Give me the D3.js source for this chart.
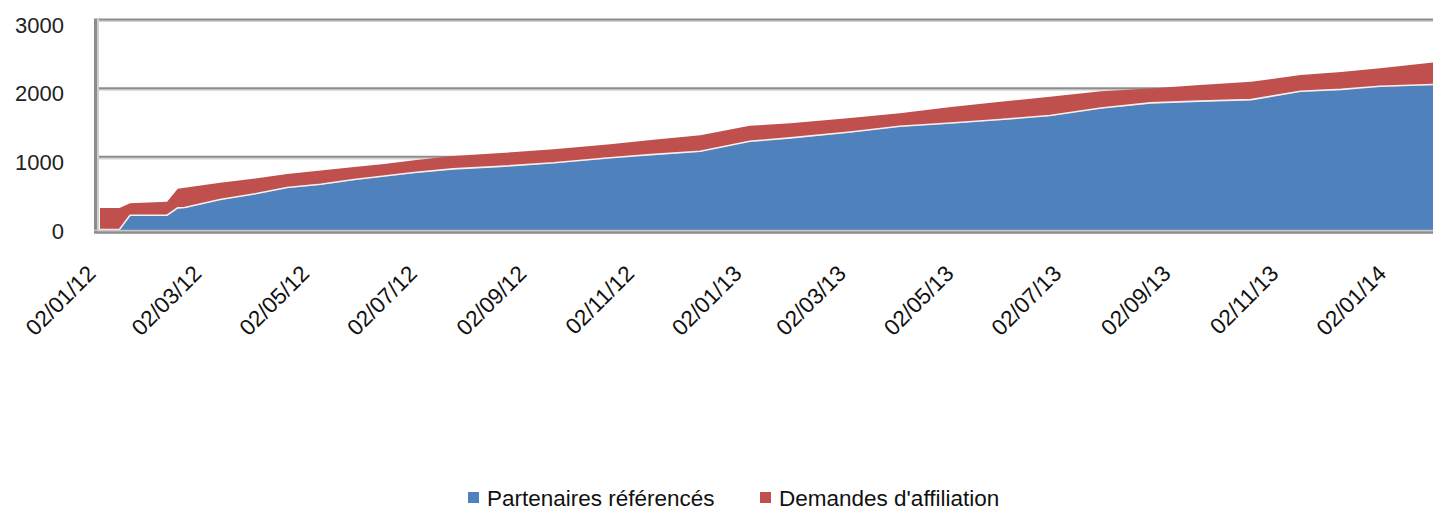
<!DOCTYPE html>
<html>
<head>
<meta charset="utf-8">
<script src="https://cdnjs.cloudflare.com/ajax/libs/d3/7.8.5/d3.min.js"></script>
<style>
  html, body { margin: 0; padding: 0; background: #fff; }
  svg { display: block; font-family: "Liberation Sans", Arial, sans-serif; }
</style>
</head>
<body>
<svg id="chart" width="1433" height="512"></svg>
<script>
// ---- Data ----
const dates = [
  "2012-01-02","2012-01-13","2012-01-19","2012-02-09","2012-02-15","2012-02-19",
  "2012-03-10","2012-03-30","2012-04-17","2012-05-06","2012-05-25","2012-06-11",
  "2012-06-28","2012-07-20","2012-08-16","2012-09-15","2012-10-17","2012-11-09",
  "2012-12-07","2013-01-04","2013-01-27","2013-03-02","2013-03-30","2013-04-28",
  "2013-05-26","2013-06-23","2013-07-22","2013-08-19","2013-09-16","2013-10-15",
  "2013-11-12","2013-12-05","2013-12-27","2014-01-26"
];
const partenaires = [
  0, 0, 208, 208, 315, 320,
  437, 520, 611, 660, 728, 780,
  830, 883, 920, 971, 1044, 1090,
  1140, 1285, 1334, 1420, 1504, 1550,
  1601, 1660, 1770, 1844, 1870, 1892,
  2013, 2040, 2086, 2111
];
const demandes = [
  320, 320, 182, 202, 285, 295,
  250, 230, 205, 205, 190, 180,
  185, 195, 200, 205, 205, 220,
  240, 232, 222, 212, 198, 240,
  267, 280, 250, 216, 240, 267,
  243, 260, 268, 329
];
const yTicks = [0, 1000, 2000, 3000];
const xTickLabels = ["02/01/12","02/03/12","02/05/12","02/07/12","02/09/12","02/11/12",
  "02/01/13","02/03/13","02/05/13","02/07/13","02/09/13","02/11/13","02/01/14"];
const seriesNames = ["Partenaires référencés", "Demandes d'affiliation"];
const seriesColors = ["#4F81BD", "#C0504D"];

// ---- Build ----
const parse = d3.timeParse("%Y-%m-%d");
const parseLbl = d3.timeParse("%d/%m/%y");
const fmt = d3.timeFormat("%d/%m/%y");
const rows = dates.map((d, i) => ({ date: parse(d), a: partenaires[i], b: demandes[i] }));

const svg = d3.select("#chart");
const left = 100, right = 1433;
const x = d3.scaleTime().domain([parse("2012-01-02"), parse("2014-01-26")]).range([left, right]);
const y = d3.scaleLinear().domain([0, 3000]).range([230, 24]);
const wallOff = 4.5;

// back wall gridlines (3D look)
const grid = svg.append("g");
yTicks.filter(v => v > 0).forEach(v => {
  const gy = y(v) - wallOff;
  grid.append("line").attr("x1", 97).attr("x2", right).attr("y1", gy + 1.6).attr("y2", gy + 1.6)
    .attr("stroke", "#d4d4d4").attr("stroke-width", 2);
  grid.append("line").attr("x1", 97).attr("x2", right).attr("y1", gy).attr("y2", gy)
    .attr("stroke", "#8c8c8c").attr("stroke-width", 2);
});
// left wall
svg.append("line").attr("x1", 98).attr("x2", 98).attr("y1", y(3000) - wallOff - 1).attr("y2", 231)
  .attr("stroke", "#d0d0d0").attr("stroke-width", 2);
svg.append("line").attr("x1", 95.5).attr("x2", 95.5).attr("y1", y(3000) - wallOff - 1).attr("y2", 233)
  .attr("stroke", "#8c8c8c").attr("stroke-width", 3);

// stacked areas
const stack = d3.stack().keys(["a", "b"]);
const series = stack(rows);
const area = d3.area()
  .x(d => x(d.data.date))
  .y0(d => y(d[0]))
  .y1(d => y(d[1]))
  .curve(d3.curveLinear);
svg.append("g").selectAll("path").data(series).join("path")
  .attr("d", area)
  .attr("fill", (d, i) => seriesColors[i]);
// pale separator along top of blue
svg.append("path")
  .attr("d", d3.line().x(d => x(d.data.date)).y(d => y(d[1]) - 0.5)(series[0]))
  .attr("fill", "none").attr("stroke", "#f4f0f0").attr("stroke-width", 1.6);

// floor
svg.append("line").attr("x1", 94).attr("x2", right).attr("y1", 230.5).attr("y2", 230.5)
  .attr("stroke", "#c8c8c8").attr("stroke-width", 1.5);
svg.append("line").attr("x1", 94).attr("x2", right).attr("y1", 232.5).attr("y2", 232.5)
  .attr("stroke", "#8c8c8c").attr("stroke-width", 2.5);

// y axis labels
const yAxis = d3.axisLeft(y).tickValues(yTicks).tickSize(0).tickPadding(0).tickFormat(d3.format("d"));
const ya = svg.append("g").attr("transform", "translate(64,1)").call(yAxis);
ya.select(".domain").remove();
ya.selectAll("text").attr("font-size", 22).attr("fill", "#222")
  .attr("font-family", "'Liberation Sans', Arial, sans-serif");

// x axis labels
const xAxis = d3.axisBottom(x).tickValues(xTickLabels.map(parseLbl)).tickSize(0).tickFormat(fmt);
const xa = svg.append("g").call(xAxis);
xa.select(".domain").remove();
xa.selectAll(".tick").attr("transform", d => `translate(${x(d) - 3},275)`);
xa.selectAll("text")
  .attr("x", 0).attr("y", 0).attr("dy", 0)
  .attr("text-anchor", "end")
  .attr("transform", "rotate(-45)")
  .attr("font-size", 22.5).attr("fill", "#111")
  .attr("font-family", "'Liberation Sans', Arial, sans-serif");

// legend
const legend = svg.append("g");
const legX = [468, 760];
seriesNames.forEach((n, i) => {
  legend.append("rect").attr("x", legX[i]).attr("y", 492).attr("width", 11).attr("height", 11)
    .attr("fill", seriesColors[i]);
  legend.append("text").attr("x", legX[i] + 19).attr("y", 505.5).attr("font-size", 22.5)
    .attr("fill", "#111").text(n);
});
</script>
</body>
</html>
